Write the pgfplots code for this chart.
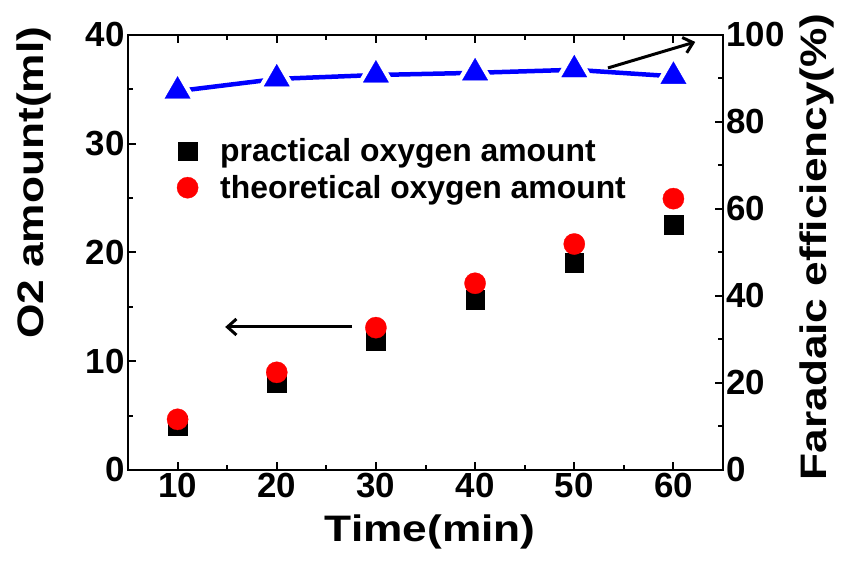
\documentclass[border=0pt]{standalone}
\usepackage{pgfplots}
\pgfplotsset{compat=1.18}
\usepackage{pgfplotstable}
\usepackage{fontspec}
\setmainfont{Liberation Sans}
\usetikzlibrary{arrows.meta}
\pgfplotstableread{
t prac theo fe
10 4.05 4.66 87.1
20 8.0 8.98 89.9
30 11.9 13.09 90.8
40 15.66 17.17 91.3
50 19.05 20.78 92.0
60 22.57 24.95 90.5
}\data
\begin{document}
\begin{tikzpicture}[x=1bp,y=1bp]
\useasboundingbox (0,0) rectangle (842,561);
\pgfplotsset{
  common/.style={
    at={(128bp,91bp)}, anchor=south west, scale only axis,
    width=595bp, height=435bp, xmin=5, xmax=65,
    tick align=inside, major tick length=8bp, minor tick length=5bp,
    every tick/.style={line width=2bp, black},
    axis line style={line width=2.5bp},
    tick label style={font=\bfseries\fontsize{35}{35}\selectfont},
    /pgf/number format/assume math mode=true,
    label style={font=\bfseries\fontsize{37}{37}\selectfont},
  }
}
\begin{axis}[common,
  ymin=0, ymax=40,
  xtick={10,20,...,60}, minor x tick num=1,
  ytick={0,10,...,40}, minor y tick num=1,
  ytick pos=left, xtick pos=both,
  xlabel={\scalebox{1.2}[1]{Time(min)}},
  xlabel style={at={(axis description cs:0.508,-0.143)}, anchor=center},
  ylabel={\scalebox{1.2}[1]{O2 amount(ml)}},
  ylabel style={at={(axis description cs:-0.158,0.66)}, anchor=center},
  legend style={at={(axis description cs:0.077,0.771)}, anchor=north west,
    draw=none, fill=none, font=\bfseries\fontsize{32}{32}\selectfont,
    row sep=8bp, column sep=20bp, nodes={inner sep=2bp}},
  legend cell align=left,
]
\addplot[only marks, mark=square*, mark size=9.3bp, mark options={fill=black, draw=black, line width=0.3bp}] table[x=t, y=prac]{\data};
\addlegendentry{practical oxygen amount}
\addplot[only marks, mark=*, mark size=10.6bp, mark options={fill=red, draw=red, line width=0.3bp}] table[x=t, y=theo]{\data};
\addlegendentry{theoretical oxygen amount}
\draw[line width=3bp, -{Straight Barb[length=9bp, width=16bp, line width=3bp]}] (axis cs:27.6,13.15) -- (axis cs:14.8,13.15);
\draw[line width=3bp, -{Straight Barb[length=9bp, width=16bp, line width=3bp]}] (axis cs:53.4,36.97) -- (axis cs:62.2,39.36);
\end{axis}
\begin{axis}[common,
  ymin=0, ymax=100,
  axis y line*=right, axis x line=none,
  ytick={0,20,...,100}, minor y tick num=1,
  ylabel={\scalebox{1.2}[1]{Faradaic efficiency(\%)}},
  ylabel style={at={(axis description cs:1.158,0.513)}, anchor=center},
]
\addplot[blue, line width=4.5bp] table[x=t, y=fe]{\data};
\addplot[only marks, mark=triangle*, mark size=14.8bp, mark options={fill=white, draw=white, line width=9bp}] table[x=t, y=fe]{\data};
\addplot[only marks, mark=triangle*, mark size=14.6bp, mark options={fill=blue, draw=blue, line width=0.3bp}] table[x=t, y=fe]{\data};
\end{axis}
\end{tikzpicture}
\end{document}
